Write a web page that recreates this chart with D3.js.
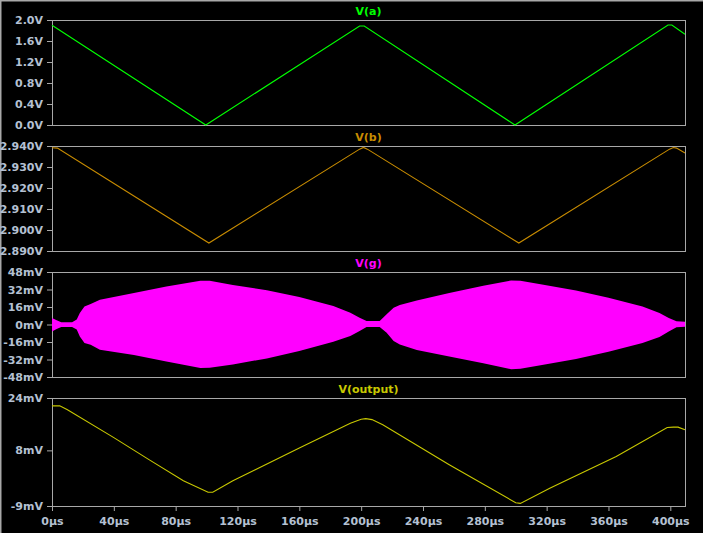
<!DOCTYPE html>
<html>
<head>
    <title>Transient waveforms</title>
    <script src="https://cdnjs.cloudflare.com/ajax/libs/d3/7.8.5/d3.min.js"></script>
    <style>
        body { margin: 0; background: #000; }
        .tick text { font-family: "DejaVu Sans", sans-serif; font-weight: bold; font-size: 11px; fill: #b4c0d2; }
        .tick line { stroke: #a8a8a8; }
    </style>
</head>

<body>
    <div id="chart"></div>

    <script>
        // time axis (µs)
        let timeDomain = [0, 409.5]
        let timeTicks = [0, 40, 80, 120, 160, 200, 240, 280, 320, 360, 400]

        // V(a)
        let vaTime = [0, 99.5, 199, 202, 299.5, 398.5, 401, 409.5]
        let vaValues = [1.90, 0.00, 1.885, 1.885, 0.00, 1.905, 1.905, 1.73]
        let vaTicks = [0, 0.4, 0.8, 1.2, 1.6, 2.0]

        // V(b)
        let vbTime = [0, 3.5, 101.5, 199, 201.5, 204, 302, 399.5, 402, 404, 409.5]
        let vbValues = [2.9392, 2.9390, 2.8938, 2.9385, 2.9393, 2.9385, 2.8938, 2.9385, 2.9393, 2.9390, 2.9367]
        let vbTicks = [2.89, 2.90, 2.91, 2.92, 2.93, 2.94]

        // V(g) envelope (mV)
        let vgTime = [0, 3, 6, 13, 16, 18, 21, 25, 31, 53, 74, 96, 102, 117, 139, 160, 182, 193, 199, 203.5, 212, 216.5, 221, 225, 236, 257, 279, 297, 303, 317, 339, 360, 382, 393, 399, 404, 409.5]
        let vgUpper = [5.9, 4.0, 2.0, 2.0, 4.5, 10.5, 16.5, 18.7, 22.6, 28.8, 34.8, 40.0, 39.9, 36.2, 31.3, 25.2, 16.9, 10.8, 6.2, 3.2, 3.2, 9.3, 15.4, 17.9, 22.0, 28.8, 35.5, 40.3, 40.0, 36.5, 31.0, 24.5, 16.5, 10.5, 6.0, 3.0, 2.5]
        let vgLower = [-6.4, -4.0, -2.2, -2.2, -4.6, -11.0, -17.0, -18.6, -23.0, -27.8, -33.9, -39.8, -39.6, -36.6, -31.0, -24.3, -15.8, -10.6, -6.0, -2.3, -2.3, -7.5, -15.1, -18.2, -23.2, -29.3, -35.4, -40.9, -40.5, -37.0, -31.5, -25.0, -17.0, -11.5, -6.5, -2.5, -2.0]
        let vgTicks = [-48, -32, -16, 0, 16, 32, 48]

        // V(output) (mV)
        let voutTime = [0, 5, 10, 40, 63, 85, 101, 104, 117, 160, 193, 200, 203, 207, 214, 257, 300, 303, 322, 365, 398, 402, 405, 409.5]
        let voutValues = [21.6, 21.6, 20.4, 11.9, 5.1, -1.3, -4.8, -4.8, -1.3, 8.7, 16.3, 17.5, 17.7, 17.4, 15.8, 3.6, -8.0, -8.2, -3.6, 6.1, 15.0, 15.1, 15.1, 14.3]
        let voutTicks = [-9, 8, 24]

        const W = 703, H = 533
        const LEFT = 52, RIGHT = 685

        let panels = [
            { name: "V(a)", color: "#00ff00", top: 20, bottom: 125, domain: [0, 2], ticks: vaTicks,
              fmt: d => d.toFixed(1) + "V", time: vaTime, values: vaValues },
            { name: "V(b)", color: "#c88c00", top: 146, bottom: 251, domain: [2.89, 2.94], ticks: vbTicks,
              fmt: d => d.toFixed(3) + "V", time: vbTime, values: vbValues },
            { name: "V(g)", color: "#ff00ff", top: 272, bottom: 377, domain: [-48, 48], ticks: vgTicks,
              fmt: d => d + "mV", time: vgTime, upper: vgUpper, lower: vgLower },
            { name: "V(output)", color: "#c8c800", top: 398, bottom: 506, domain: [-9, 24], ticks: voutTicks,
              fmt: d => d + "mV", time: voutTime, values: voutValues }
        ]

        let svg = d3.select("#chart").append("svg")
            .attr("width", W)
            .attr("height", H)
            .style("display", "block")

        svg.append("rect").attr("width", W).attr("height", H).attr("fill", "#000")

        // window frame, top and left
        svg.append("line").attr("x1", 0).attr("x2", W).attr("y1", 0.5).attr("y2", 0.5).attr("stroke", "#a8a8a8").attr("stroke-width", 2)
        svg.append("line").attr("x1", 0.5).attr("x2", 0.5).attr("y1", 0).attr("y2", H).attr("stroke", "#a8a8a8").attr("stroke-width", 2)

        let x = d3.scaleLinear().domain(timeDomain).range([LEFT, RIGHT])

        panels.forEach(function (p, i) {
            let y = d3.scaleLinear().domain(p.domain).range([p.bottom, p.top])

            let yAxis = svg.append("g")
                .attr("transform", `translate(${LEFT},0)`)
                .call(d3.axisLeft(y).tickValues(p.ticks).tickFormat(p.fmt).tickSize(5).tickPadding(4))
            yAxis.select(".domain").remove()

            svg.append("rect")
                .attr("x", LEFT + 0.5).attr("y", p.top + 0.5)
                .attr("width", RIGHT - LEFT).attr("height", p.bottom - p.top)
                .attr("fill", "none").attr("stroke", "#a8a8a8")

            svg.append("text")
                .attr("x", (LEFT + RIGHT) / 2).attr("y", p.top - 5.5)
                .attr("text-anchor", "middle")
                .style("font-family", "DejaVu Sans, sans-serif").style("font-weight", "bold").style("font-size", "11px")
                .attr("fill", p.color)
                .text(p.name)

            if (p.upper) {
                let area = d3.area()
                    .x((d, k) => x(p.time[k]))
                    .y0((d, k) => y(p.lower[k]))
                    .y1((d, k) => y(p.upper[k]))
                svg.append("path").datum(p.time).attr("d", area).attr("fill", p.color)
            } else {
                let line = d3.line()
                    .x((d, k) => x(p.time[k]))
                    .y((d, k) => y(p.values[k]))
                svg.append("path").datum(p.time).attr("d", line)
                    .attr("fill", "none").attr("stroke", p.color).attr("stroke-width", 1.1)
            }

            if (i === panels.length - 1) {
                let xAxis = svg.append("g")
                    .attr("transform", `translate(0,${p.bottom})`)
                    .call(d3.axisBottom(x).tickValues(timeTicks).tickFormat(d => d + "µs").tickSize(5).tickPadding(6))
                xAxis.select(".domain").remove()
            }
        })
    </script>
</body>

</html>
